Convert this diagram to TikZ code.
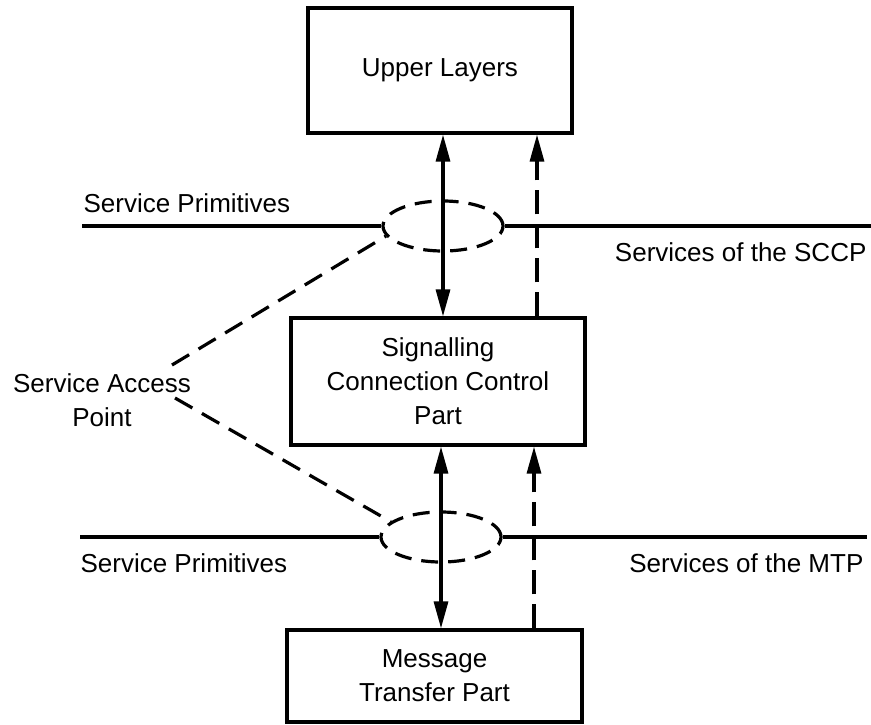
\documentclass[tikz,border=0pt]{standalone}
\usepackage{fontspec}
\setmainfont{Liberation Sans}
\usetikzlibrary{arrows.meta,shapes.geometric}

\begin{document}
\begin{tikzpicture}[x=1pt,y=-1pt,line width=3.2pt,
  font=\fontsize{26}{34}\selectfont,
  layer/.style={draw,align=center,inner sep=0pt},
  sap/.style={draw,ellipse,dash pattern=on 17pt off 10pt,minimum width=120pt,minimum height=50pt,inner sep=0pt},
  lbl/.style={inner sep=0pt,align=center},
  sapline/.style={dash pattern=on 20pt off 11pt},
  biarrow/.style={{Triangle[length=27pt,width=14pt]}-{Triangle[length=27pt,width=14pt]}},
  dasharrow/.style={-{Triangle[length=27pt,width=14pt]},dash pattern=on 24pt off 10pt}]
  \useasboundingbox (0,0) rectangle (871,724);

  \node[layer,minimum width=264pt,minimum height=125pt] (upper) at (440,70.5) {Upper Layers};
  \node[layer,minimum width=294pt,minimum height=127pt] (sccp) at (438,381.5) {Signalling\\Connection Control\\Part};
  \node[layer,minimum width=295pt,minimum height=92pt] (mtp) at (434.5,676) {Message\\Transfer Part};

  \node[sap] (sapA) at (443,226) {};
  \node[sap] (sapB) at (441,537) {};

  \coordinate (spA) at (82,226);
  \coordinate (svA) at (871,226);
  \coordinate (spB) at (80,537);
  \coordinate (svB) at (867,537);
  \draw (spA) -- (sapA.west);
  \draw (sapA.east) -- (svA);
  \draw (spB) -- (sapB.west);
  \draw (sapB.east) -- (svB);

  \node[lbl,anchor=west] (primA) at (82,203) {Service Primitives};
  \node[lbl,anchor=east] (servA) at (868,252) {Services of the SCCP};
  \node[lbl,anchor=west] (primB) at (79,563) {Service Primitives};
  \node[lbl,anchor=east] (servB) at (865,563) {Services of the MTP};
  \node[lbl] (sapl) at (102,400) {Service Access\\Point};

  \coordinate (sapT) at (172,365);
  \coordinate (sapD) at (175,398);
  \draw[sapline] (sapT) -- (sapA.190);
  \draw[sapline] (sapD) -- (sapB.163);

  \draw[biarrow] (upper.south -| sapA) -- (sccp.north -| sapA);
  \draw[biarrow] (sccp.south -| sapB) -- (mtp.north -| sapB);

  \coordinate (upA) at (537,0);
  \coordinate (upB) at (534,0);
  \draw[dasharrow] (sccp.north -| upA) -- (upper.south -| upA);
  \draw[dasharrow] (mtp.north -| upB) -- (sccp.south -| upB);
\end{tikzpicture}
\end{document}
